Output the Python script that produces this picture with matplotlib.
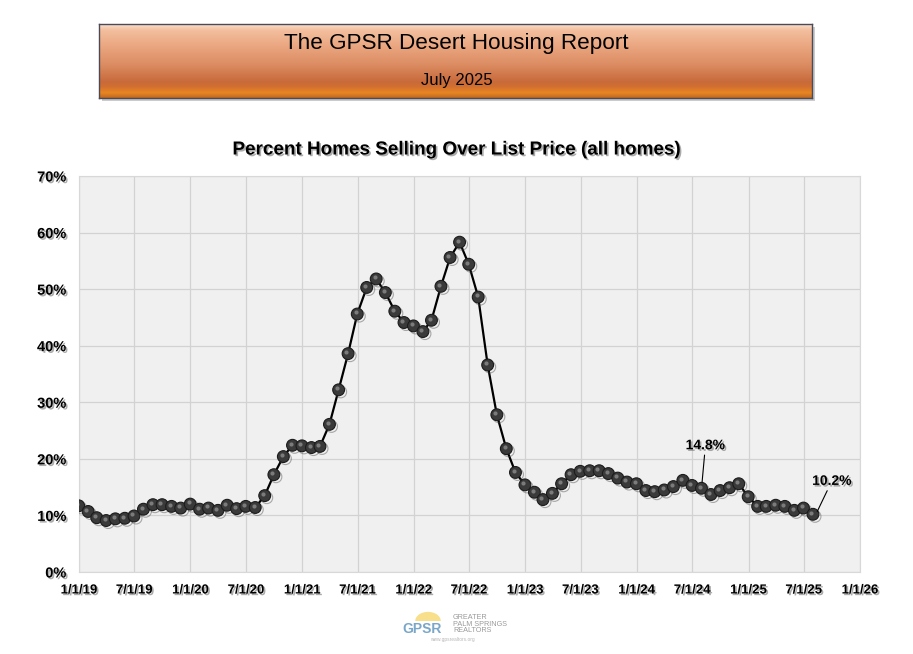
import numpy as np
import pandas as pd
import matplotlib
matplotlib.use('Agg')
import matplotlib.pyplot as plt
import matplotlib.dates as mdates
import matplotlib.patheffects as pe
import matplotlib.transforms as mtransforms
from matplotlib.patches import Rectangle, Wedge

# month-end dates, Dec 2018 .. Jul 2025
dates = pd.date_range('2018-12-31', periods=80, freq='ME')
pct_over_list = [
    11.7, 10.7, 9.6, 9.1, 9.4, 9.5, 9.9, 11.1, 11.9, 11.9, 11.6, 11.3,
    12.0, 11.1, 11.3, 10.9, 11.8, 11.2, 11.6, 11.4, 13.5, 17.2, 20.4, 22.4,
    22.3, 22.0, 22.2, 26.1, 32.2, 38.6, 45.6, 50.3, 51.8, 49.4, 46.1, 44.1,
    43.5, 42.5, 44.5, 50.5, 55.6, 58.3, 54.4, 48.6, 36.6, 27.8, 21.8, 17.6,
    15.4, 14.1, 12.8, 13.9, 15.6, 17.2, 17.8, 17.9, 17.9, 17.4, 16.6, 15.9,
    15.6, 14.4, 14.2, 14.5, 15.1, 16.2, 15.3, 14.8, 13.7, 14.4, 14.9, 15.6,
    13.3, 11.6, 11.6, 11.8, 11.6, 10.9, 11.3, 10.2,
]
callouts = {67: '14.8%', 79: '10.2%'}   # index -> label
callout_text = {67: ('2024-08-13', 22.4), 79: ('2025-10-01', 16.1)}
callout_tip = {67: ('2024-08-02', 15.9), 79: ('2025-08-14', 10.7)}
ytick_vals = np.arange(0, 71, 10)
xtick_dates = pd.date_range('2019-01-01', '2026-01-01', freq='6MS')

FONT = 'Liberation Sans'
SHADOW = [pe.withSimplePatchShadow(offset=(1.2, -1.2), shadow_rgbFace='0.45', alpha=0.6)]

fig = plt.figure(figsize=(9.13, 6.54), dpi=100)
fig.patch.set_facecolor('white')

# ---- orange banner ----
bx0, bx1, by0, by1 = 99 / 913, 812 / 913, 1 - 98 / 654, 1 - 24 / 654
fig.patches.append(Rectangle((bx0 + 0.003, by0 - 0.005), bx1 - bx0, by1 - by0,
                             transform=fig.transFigure, fc='0.6', ec='none', alpha=0.5,
                             zorder=-5))
bax = fig.add_axes([bx0, by0, bx1 - bx0, by1 - by0], zorder=1)
stops = np.array([0.0, 0.08, 0.3, 0.55, 0.78, 0.85, 0.93, 1.0])
cols = np.array([
    [0xfb, 0xe0, 0xcc], [0xf3, 0xbf, 0x9e], [0xea, 0xa6, 0x80], [0xdc, 0x8c, 0x62],
    [0xc8, 0x6a, 0x3c], [0xd2, 0x70, 0x30], [0xe8, 0x86, 0x22], [0xc0, 0x68, 0x20]]) / 255
t = np.linspace(0, 1, 200)
grad = np.stack([np.interp(t, stops, cols[:, k]) for k in range(3)], axis=-1)
bax.imshow(grad[:, None, :], aspect='auto', extent=(0, 1, 1, 0), interpolation='bilinear')
bax.set_xlim(0, 1); bax.set_ylim(1, 0)
bax.set_xticks([]); bax.set_yticks([])
for s in bax.spines.values():
    s.set_color('#4a4a58'); s.set_linewidth(1.0)
fig.text(0.5, 1 - 43 / 654, 'The GPSR Desert Housing Report', ha='center', va='center',
         fontsize=16.2, family=FONT, color='black', zorder=3)
fig.text(0.5, 1 - 80 / 654, 'July 2025', ha='center', va='center',
         fontsize=12, family=FONT, color='black', zorder=3)

# ---- chart ----
ax = fig.add_axes([79 / 913, 1 - 572 / 654, 781 / 913, 396 / 654])
ax.set_facecolor('#f0f0f0')
ax.plot(dates, pct_over_list, color='black', lw=1.6, zorder=3, clip_on=True)
ax.plot(dates, pct_over_list, ls='none', marker='o', ms=8.5, mfc='#3a3a3a', mec='#1c1c1c',
        mew=0.8, zorder=4, clip_on=True,
        path_effects=[pe.SimpleLineShadow(offset=(1.5, -1.5), shadow_color='0.3', alpha=0.45),
                      pe.Normal()])
hl = mtransforms.offset_copy(ax.transData, fig=fig, x=-1.2, y=1.2, units='points')
ax.plot(dates, pct_over_list, ls='none', marker='o', ms=3, mfc='#8c8c8c', mec='none',
        alpha=0.8, zorder=5, transform=hl, clip_on=True)

ax.set_xlim(pd.Timestamp('2019-01-01'), pd.Timestamp('2026-01-01'))
ax.set_ylim(0, 70)
ax.set_xticks(xtick_dates)
ax.xaxis.set_major_formatter(plt.FuncFormatter(
    lambda v, p: '%d/%d/%d' % (mdates.num2date(v).month, mdates.num2date(v).day,
                              mdates.num2date(v).year % 100)))
ax.set_yticks(ytick_vals)
ax.set_yticklabels(['%d%%' % v for v in ytick_vals])
ax.grid(True, color='#d2d2d2', lw=0.9)
ax.set_axisbelow(True)
ax.tick_params(axis='x', length=0, pad=9)
ax.tick_params(axis='y', length=0, pad=9)
for lab in ax.get_xticklabels():
    lab.set_fontsize(9.5); lab.set_fontweight('bold'); lab.set_family(FONT)
    lab.set_path_effects(SHADOW)
for lab in ax.get_yticklabels():
    lab.set_fontsize(10.5); lab.set_fontweight('bold'); lab.set_family(FONT)
    lab.set_path_effects(SHADOW)
for s in ax.spines.values():
    s.set_color('#d8d8d8'); s.set_linewidth(0.8)

fig.text(0.5, 1 - 150 / 654, 'Percent Homes Selling Over List Price (all homes)',
         ha='center', va='center', fontsize=13.6, fontweight='bold', family=FONT,
         path_effects=SHADOW)

for i, txt in callouts.items():
    lx, ly = callout_text[i]
    tx, ty = callout_tip[i]
    ax.annotate(txt, xy=(pd.Timestamp(tx), ty), xytext=(pd.Timestamp(lx), ly),
                ha='center', va='center', fontsize=10, fontweight='bold', family=FONT,
                path_effects=SHADOW, zorder=6,
                arrowprops=dict(arrowstyle='-', color='black', lw=0.8, shrinkA=0, shrinkB=0))

# ---- footer logo (approximation) ----
fig.patches.append(Wedge((428 / 913, 1 - 621 / 654), 0.014, 0, 180,
                         transform=fig.transFigure, fc='#f5d870', ec='none', alpha=0.8))
fig.text(422 / 913, 1 - 629 / 654, 'GPSR', ha='center', va='center', fontsize=10,
         family=FONT, color='#7aa6c8', fontweight='bold')
fig.text(453 / 913, 1 - 624 / 654, 'GREATER\nPALM SPRINGS\nREALTORS', ha='left', va='center',
         fontsize=5.2, family=FONT, color='#9a9a9a', linespacing=0.95)
fig.text(452 / 913, 1 - 639 / 654, 'www.gpsrealtors.org', ha='center', va='center',
         fontsize=3.5, family=FONT, color='#b8b8b8')

fig.savefig('out.png', dpi=100, facecolor='white')
